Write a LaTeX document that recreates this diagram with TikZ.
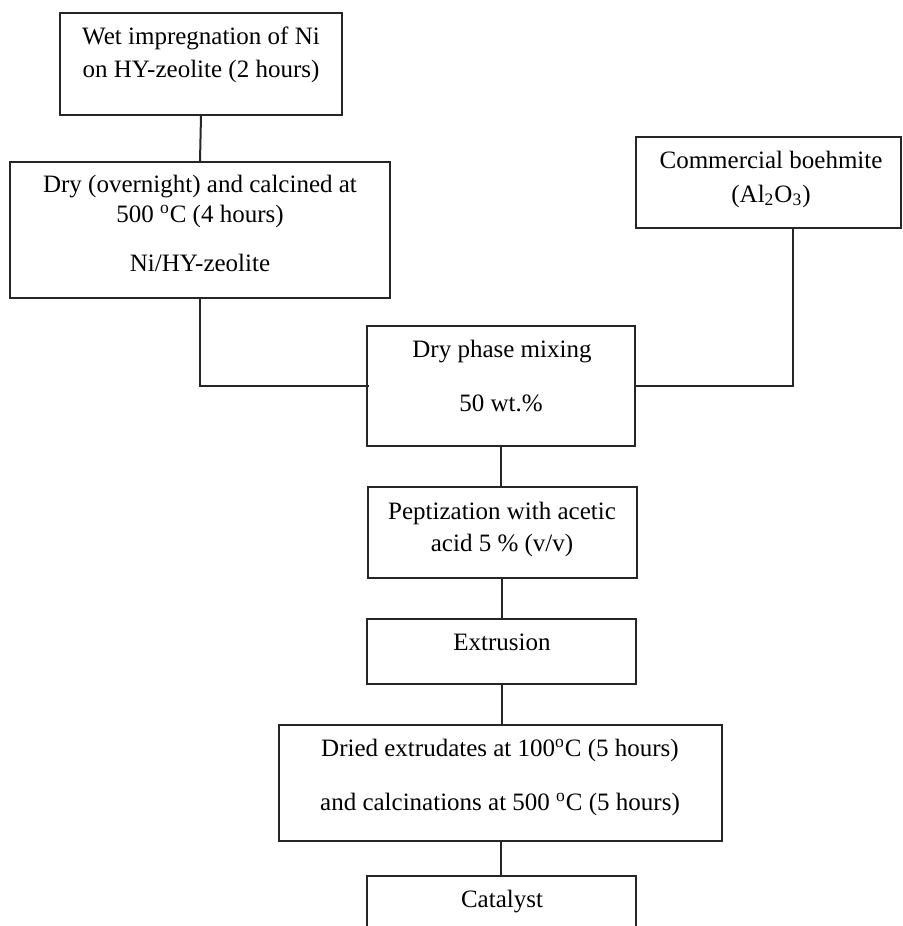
\documentclass[tikz,border=0pt]{standalone}
\usepackage{fontspec}
\setmainfont{Liberation Serif}
\begin{document}
\begin{tikzpicture}[x=0.5pt,y=-0.5pt,
  box/.style={draw=black!85,line width=1pt,inner sep=0pt},
  txt/.style={inner sep=0pt,anchor=base,font=\fontsize{12.5}{15}\selectfont},
  conn/.style={draw=black!85,line width=1pt}]
\useasboundingbox (0,0) rectangle (902,926);
\clip (0,0) rectangle (902,926);
% boxes
\node[box,minimum width=141pt,minimum height=51pt] (b1) at (201,64) {};
\node[box,minimum width=190pt,minimum height=68pt] (b2) at (200,230) {};
\node[box,minimum width=132.5pt,minimum height=45.5pt] (b3) at (768.5,182.5) {};
\node[box,minimum width=134pt,minimum height=60pt] (b4) at (501,386) {};
\node[box,minimum width=134.5pt,minimum height=45.5pt] (b5) at (502,532.5) {};
\node[box,minimum width=134.5pt,minimum height=32.5pt] (b6) at (501.5,651.5) {};
\node[box,minimum width=221.5pt,minimum height=58pt] (b7) at (500.5,783) {};
\node[box,minimum width=134.5pt,minimum height=50pt] (b8) at (501.5,926) {};
% texts
\node[txt] (t1a) at (201,44) {Wet impregnation of Ni};
\node[txt] (t1b) at (201,77) {on HY-zeolite (2 hours)};
\node[txt] (t2a) at (200,192) {Dry (overnight) and calcined at};
\node[txt] (t2b) at (200,222) {500 \textsuperscript{o}C (4 hours)};
\node[txt] (t2c) at (200,271) {Ni/HY-zeolite};
\node[txt] (t3a) at (771,168) {Commercial boehmite};
\node[txt] (t3b) at (771,202) {(Al\textsubscript{2}O\textsubscript{3})};
\node[txt] (t4a) at (502,357) {Dry phase mixing};
\node[txt] (t4b) at (501,411) {50 wt.\%};
\node[txt] (t5a) at (502,519) {Peptization with acetic};
\node[txt] (t5b) at (502,551) {acid 5 \% (v/v)};
\node[txt] (t6) at (502,650) {Extrusion};
\node[txt] (t7a) at (500,756) {Dried extrudates at 100\textsuperscript{o}C (5 hours)};
\node[txt] (t7b) at (500,810) {and calcinations at 500 \textsuperscript{o}C (5 hours)};
\node[txt] (t8) at (502,907) {Catalyst};
% connectors
\coordinate (c3) at (793,228);
\draw[conn] (b1.south) -- (b2.north);
\draw[conn] (b2.south) |- ([xshift=1.5pt]b4.west);
\draw[conn] (c3) |- (b4.east);
\draw[conn] (b4.south) -- (b4.south |- b5.north);
\draw[conn] (b5.south) -- (b5.south |- b6.north);
\draw[conn] (b6.south) -- (b6.south |- b7.north);
\draw[conn] (b7.south) -- (b7.south |- b8.north);
\end{tikzpicture}
\end{document}
